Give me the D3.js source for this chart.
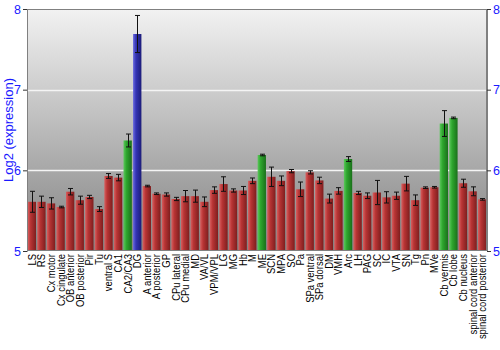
<!DOCTYPE html>
<html>
<head>
<meta charset="utf-8">
<script src="https://cdn.jsdelivr.net/npm/d3@7"></script>
<style>
  body { margin: 0; background: #fff; }
  svg { display: block; font-family: "Liberation Sans", Arial, sans-serif; }
</style>
</head>
<body>
<svg id="chart" width="500" height="350"></svg>
<script>
// regions on the x axis
const regions = ["LS", "RS", "Cx motor", "Cx cingulate", "OB anterior", "OB posterior", "Pir", "Tu",
  "ventral S", "CA1", "CA2/CA3", "DG", "A anterior", "A posterior", "GP", "CPu lateral", "CPu medial",
  "MD", "VA/VL", "VPM/VPL", "LG", "MG", "Hb", "M", "ME", "SCN", "MPA", "SO", "Pa", "SPa ventral",
  "SPa dorsal", "DM", "VMH", "Arc", "LH", "PAG", "SC", "IC", "VTA", "SN", "Tg", "Pn", "MVe",
  "Cb vermis", "Cb lobe", "Cb nucleus", "spinal cord anterior", "spinal cord posterior"]
// log2 expression
const values = [5.61, 5.61, 5.59, 5.545, 5.735, 5.63, 5.67, 5.52,
  5.93, 5.91, 6.37, 7.69, 5.805, 5.71, 5.70, 5.645, 5.68,
  5.68, 5.61, 5.755, 5.83, 5.75, 5.75, 5.87, 6.19, 5.92, 5.87, 5.99, 5.765, 5.975,
  5.875, 5.65, 5.745, 6.14, 5.72, 5.685, 5.725, 5.665, 5.685, 5.835, 5.63, 5.785, 5.79,
  6.58, 6.65, 5.84, 5.74, 5.64]
// error (+/-)
const errors = [0.13, 0.07, 0.07, 0.01, 0.04, 0.05, 0.02, 0.03,
  0.03, 0.04, 0.08, 0.23, 0.01, 0.01, 0.02, 0.02, 0.07,
  0.075, 0.06, 0.04, 0.09, 0.02, 0.05, 0.035, 0.01, 0.12, 0.06, 0.02, 0.09, 0.02,
  0.04, 0.055, 0.04, 0.03, 0.02, 0.035, 0.15, 0.07, 0.045, 0.09, 0.065, 0.01, 0.01,
  0.16, 0.01, 0.05, 0.055, 0.01]
// colour group of each bar: r = red, g = green, b = blue
const groups = ["r", "r", "r", "r", "r", "r", "r", "r",
  "r", "r", "g", "b", "r", "r", "r", "r", "r",
  "r", "r", "r", "r", "r", "r", "r", "g", "r", "r", "r", "r", "r",
  "r", "r", "r", "g", "r", "r", "r", "r", "r", "r", "r", "r", "r",
  "g", "g", "r", "r", "r"]
const yTicks = [5, 6, 7, 8]

const margin = { top: 9, right: 13, bottom: 99, left: 27 }
const width = 500, height = 350
const svg = d3.select("#chart")

const xScale = d3.scaleBand()
  .domain(regions)
  .range([margin.left, width - margin.right])
  .paddingInner(0.13)
  .paddingOuter(0.07)

const yScale = d3.scaleLinear()
  .domain([5, 8])
  .range([height - margin.bottom, margin.top])

const defs = svg.append("defs")
// plot background
const bg = defs.append("linearGradient").attr("id", "bgGrad")
  .attr("x1", 0).attr("y1", 0).attr("x2", 0).attr("y2", 1)
bg.append("stop").attr("offset", "0%").attr("stop-color", "#f2f2f2")
bg.append("stop").attr("offset", "100%").attr("stop-color", "#828282")

// bar shading, light on the left, dark on the right
const barColors = {
  r: ["#d86060", "#b83434", "#7e1e1e"],
  g: ["#5cc85c", "#2ea62e", "#1a701a"],
  b: ["#6a6ae0", "#3434b4", "#1c1c78"]
}
Object.entries(barColors).forEach(([k, c]) => {
  const g = defs.append("linearGradient").attr("id", "bar-" + k)
    .attr("x1", 0).attr("y1", 0).attr("x2", 1).attr("y2", 0)
  g.append("stop").attr("offset", "0%").attr("stop-color", c[0])
  g.append("stop").attr("offset", "35%").attr("stop-color", c[1])
  g.append("stop").attr("offset", "100%").attr("stop-color", c[2])
})

svg.append("rect")
  .attr("x", margin.left)
  .attr("y", margin.top)
  .attr("width", width - margin.left - margin.right)
  .attr("height", height - margin.top - margin.bottom)
  .style("fill", "url(#bgGrad)")

// grid lines
svg.selectAll(".grid")
  .data([6, 7])
  .enter()
  .append("line")
  .attr("class", "grid")
  .attr("x1", margin.left)
  .attr("x2", width - margin.right)
  .attr("y1", d => Math.round(yScale(d)) + 0.5)
  .attr("y2", d => Math.round(yScale(d)) + 0.5)
  .attr("stroke", "#f4f4f4")
  .attr("stroke-width", 1.5)

// bars
svg.selectAll(".bar")
  .data(regions)
  .enter()
  .append("rect")
  .attr("class", "bar")
  .attr("x", d => xScale(d))
  .attr("width", xScale.bandwidth())
  .attr("y", (d, i) => yScale(values[i]))
  .attr("height", (d, i) => yScale(5) - yScale(values[i]))
  .style("fill", (d, i) => "url(#bar-" + groups[i] + ")")

// error bars
const errG = svg.append("g").attr("class", "errors")
regions.forEach((d, i) => {
  const cx = Math.round(xScale(d) + xScale.bandwidth() / 2) + 0.5
  const y0 = yScale(values[i] - errors[i]), y1 = yScale(values[i] + errors[i])
  errG.append("line").attr("x1", cx).attr("x2", cx).attr("y1", y0).attr("y2", y1)
    .attr("stroke", "#111").attr("stroke-width", 1)
  ;[y0, y1].forEach(y => {
    errG.append("line").attr("x1", cx - 2.5).attr("x2", cx + 2.5).attr("y1", y).attr("y2", y)
      .attr("stroke", "#111").attr("stroke-width", 1)
  })
})

// frame
svg.append("rect")
  .attr("x", margin.left + 0.5)
  .attr("y", margin.top + 0.5)
  .attr("width", width - margin.left - margin.right - 1)
  .attr("height", height - margin.top - margin.bottom - 1)
  .style("fill", "none")
  .attr("stroke", "#808080")

// axes
const leftAxis = svg.append("g")
  .attr("transform", "translate(" + margin.left + ",0)")
  .call(d3.axisLeft(yScale).tickValues(yTicks).tickSize(4).tickPadding(2).tickFormat(d3.format("d")))
const rightAxis = svg.append("g")
  .attr("transform", "translate(" + (width - margin.right) + ",0)")
  .call(d3.axisRight(yScale).tickValues(yTicks).tickSize(4).tickPadding(2).tickFormat(d3.format("d")))
;[leftAxis, rightAxis].forEach(a => {
  a.select(".domain").attr("stroke", "#808080")
  a.selectAll(".tick line").attr("stroke", "#333")
  a.selectAll(".tick text").attr("fill", "#1a1aff").attr("font-size", 12.5)
    .attr("font-family", "Liberation Sans, Arial, sans-serif")
})

// x labels (squeezed a bit along the text direction)
svg.selectAll(".xlabel")
  .data(regions)
  .enter()
  .append("text")
  .attr("class", "xlabel")
  .attr("transform", d => "translate(" + (xScale(d) + xScale.bandwidth() / 2 + 4) + "," + (height - margin.bottom + 3) + ") rotate(-90) scale(0.86,1)")
  .attr("text-anchor", "end")
  .attr("font-size", 11)
  .attr("fill", "#000")
  .text(d => d)

// y label
svg.append("text")
  .attr("transform", "translate(" + 13 + "," + 130 + ") rotate(-90)")
  .attr("text-anchor", "middle")
  .attr("font-size", 13)
  .attr("fill", "#1a1aff")
  .text("Log2 (expression)")
</script>
</body>
</html>
